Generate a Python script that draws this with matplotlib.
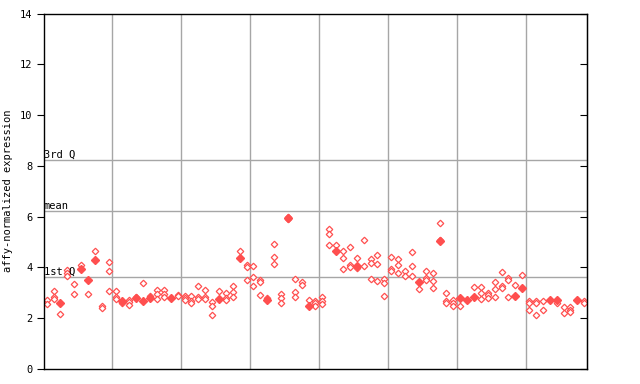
import matplotlib
matplotlib.use("Agg")
import matplotlib.pyplot as plt

# expression values per sample column
values = [
    [2.73, 2.55], [3.08, 2.83, 2.75], [2.6, 2.18], [3.9, 3.78, 3.67], [3.33, 2.94],
    [4.1, 3.93], [3.51, 2.96], [4.65, 4.28], [2.48, 2.4], [4.2, 3.87, 3.08],
    [3.06, 2.83, 2.76], [2.67, 2.58], [2.7, 2.62, 2.54], [2.85, 2.8], [3.4, 2.67],
    [2.89, 2.8], [3.11, 2.96, 2.75], [3.11, 2.96, 2.83], [2.8], [2.93, 2.86],
    [2.89, 2.79, 2.73], [2.86, 2.69, 2.58], [3.26, 2.83, 2.76], [3.12, 2.83, 2.75], [2.64, 2.47, 2.12],
    [3.06, 2.75], [2.98, 2.8, 2.7], [3.28, 3.02, 2.85], [4.63, 4.37], [4.09, 4.01, 3.51],
    [4.07, 3.63, 3.28], [3.51, 3.42, 2.93], [2.81, 2.72], [4.93, 4.42, 4.14], [2.96, 2.8, 2.58],
    [6.0, 5.92], [3.55, 3.02, 2.83], [3.42, 3.3], [2.73, 2.48], [2.67, 2.58, 2.48],
    [2.83, 2.66, 2.55], [5.5, 5.32, 4.89], [4.89, 4.64], [4.65, 4.38, 3.95], [4.81, 4.08, 4.01],
    [4.38, 4.05, 3.99], [5.08, 4.07], [4.34, 4.18, 3.55], [4.5, 4.14, 3.48], [3.55, 3.4, 2.89],
    [4.42, 3.93, 3.86], [4.34, 4.1, 3.79], [3.87, 3.67], [4.61, 4.07, 3.67], [3.42, 3.16],
    [3.87, 3.59, 3.51], [3.79, 3.48, 3.2], [5.75, 5.08, 5.05], [3.0, 2.66, 2.6], [2.73, 2.6, 2.5],
    [2.8, 2.5], [2.72], [3.24, 2.83], [3.24, 3.0, 2.77], [3.0, 2.93, 2.81],
    [3.43, 3.16, 2.85], [3.83, 3.28, 3.2], [3.59, 3.51, 2.85], [3.32, 2.88], [3.71, 3.2],
    [2.66, 2.58, 2.34], [2.69, 2.6, 2.14], [2.66, 2.34], [2.72], [2.72, 2.58],
    [2.46, 2.22], [2.46, 2.34, 2.26], [2.72], [2.69, 2.6],
]

# columns whose marker is drawn solid, with that value
filled_cols = [2, 5, 6, 7, 11, 13, 14, 15, 18, 25, 28, 32, 35, 38,
               42, 45, 54, 57, 60, 61, 62, 68, 69, 73, 74, 77]
filled_vals = [2.6, 3.93, 3.51, 4.28, 2.67, 2.8, 2.67, 2.8, 2.8, 2.75, 4.37, 2.72, 5.96, 2.48,
               4.64, 4.05, 3.42, 5.06, 2.8, 2.72, 2.83, 2.88, 3.2, 2.72, 2.72, 2.72]

stat_names = ["3rd Q", "mean", "1st Q"]
stat_values = [8.22, 6.21, 3.61]

yticks = [0, 2, 4, 6, 8, 10, 12, 14]
group_edges = [9.5, 19.5, 29.5, 39.5, 49.5, 59.5, 69.5]

red = "#ff4f4f"
grey = "#a6a6a6"

plt.rcParams["font.family"] = "DejaVu Sans Mono"

fig = plt.figure(figsize=(6.4, 3.84), dpi=100)
ax = fig.add_axes([44 / 640, 15 / 384, 543 / 640, 355.5 / 384])

for x in group_edges:
    ax.axvline(x, color=grey, lw=1, zorder=1)
for name, v in zip(stat_names, stat_values):
    ax.axhline(v, color=grey, lw=1, zorder=1)
    ax.text(-0.39, v + 0.03, name, fontsize=7.5, va="bottom", ha="left", zorder=3)

xs = []
ys = []
for i, col in enumerate(values):
    for v in col:
        xs.append(i)
        ys.append(v)
ax.plot(xs, ys, ls="none", marker="D", ms=3.3, mfc="white", mec=red, mew=0.9, zorder=2)
ax.plot(filled_cols, filled_vals, ls="none", marker="D", ms=4, mfc=red, mec=red, zorder=2)

ax.set_xlim(-0.39, 78.4)
ax.set_ylim(0, 14)
ax.set_yticks(yticks)
ax.set_xticks([])
ax.tick_params(axis="y", direction="out", length=5, labelsize=7.5)
ax.set_ylabel("affy-normalized expression", fontsize=7.5)
ax.yaxis.set_label_coords(-0.058, 0.5)

right = ax.secondary_yaxis("right")
right.set_yticks(yticks)
right.tick_params(direction="in", length=5, labelright=False)

for s in ax.spines.values():
    s.set_linewidth(1)

fig.savefig("out.png", dpi=100)
